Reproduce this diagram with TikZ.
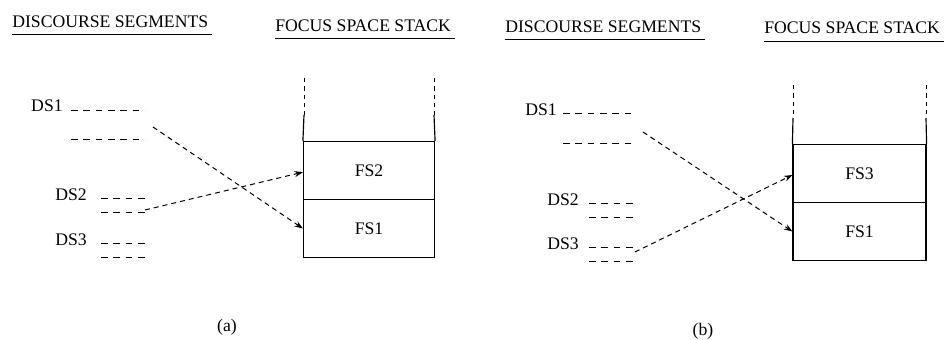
\documentclass[tikz,border=0pt]{standalone}
\usepackage{fontspec}
\setmainfont{Liberation Serif}
\usetikzlibrary{arrows.meta}

\begin{document}
\begin{tikzpicture}[x=0.6pt,y=-0.6pt,>={Stealth[length=5pt,width=3.6pt]},
  font=\fontsize{10.6}{12}\selectfont,
  txt/.style={inner sep=0pt},
  fsbox/.style={draw,line width=0.7pt,minimum width=78.6pt,minimum height=34.8pt,inner sep=0pt},
  seg/.style={dash pattern=on 4pt off 3.4pt,line width=0.6pt},
  wall/.style={line width=0.5pt,dash pattern=on 2.6pt off 2.4pt},
  link/.style={->,dash pattern=on 3pt off 2.4pt,line width=0.6pt}]
  \useasboundingbox (0,0) rectangle (945,340);
  % (a)
  \node[txt,anchor=base west] (hda) at (12,27) {DISCOURSE SEGMENTS};
  \node[txt,anchor=base west] (hfa) at (275,31.5) {FOCUS SPACE STACK};
  \draw[line width=0.7pt] ([yshift=-4.3pt]hda.base west) -- ([xshift=2pt,yshift=-4.3pt]hda.base east);
  \draw[line width=0.7pt] ([yshift=-4pt]hfa.base west) -- ([xshift=2pt,yshift=-4pt]hfa.base east);
  \node[fsbox] (fs2a) at (369,170.5) {FS2};
  \node[fsbox] (fs1a) at (369,228.5) {FS1};
  \draw[wall] (304,78)--(304,115) (434,78)--(434,115);
  \draw[line width=0.7pt] (304,115)--(fs2a.north west) (434,115)--(fs2a.north east);
  \node[txt,anchor=base east] (ds1a) at (63,111) {DS1};
  \node[txt,anchor=base east] (ds2a) at (87,200) {DS2};
  \node[txt,anchor=base east] (ds3a) at (87,245) {DS3};
  \draw[seg] (71,110)--(145,110) (71,139)--(145,139);
  \draw[seg] (101,198)--(145,198) (101,212)--(145,212);
  \draw[seg] (101,243)--(145,243) (101,257)--(145,257);
  \coordinate (s1a) at (153,127);
  \coordinate (s2a) at (145,210);
  \draw[link] (s1a) -- (fs1a.west);
  \draw[link] (s2a) -- ([yshift=-1pt]fs2a.west);
  \node (capa) at (227,327) {(a)};
  % (b)
  \node[txt,anchor=base west] (hdb) at (505,32) {DISCOURSE SEGMENTS};
  \node[txt,anchor=base west] (hfb) at (764,34) {FOCUS SPACE STACK};
  \draw[line width=0.7pt] ([yshift=-4.6pt]hdb.base west) -- ([xshift=2pt,yshift=-4.6pt]hdb.base east);
  \draw[line width=0.7pt] ([yshift=-4.6pt]hfb.base west) -- ([xshift=2pt,yshift=-4.6pt]hfb.base east);
  \node[fsbox,minimum width=79.8pt] (fs3b) at (859.5,173.5) {FS3};
  \node[fsbox,minimum width=79.8pt] (fs1b) at (859.5,231.5) {FS1};
  \draw[wall] (793,85)--(793,118) (926,85)--(926,118);
  \draw[line width=0.7pt] (793,118)--(fs3b.north west) (926,118)--(fs3b.north east);
  \node[txt,anchor=base east] (ds1b) at (557,115) {DS1};
  \node[txt,anchor=base east] (ds2b) at (579,205) {DS2};
  \node[txt,anchor=base east] (ds3b) at (579,249) {DS3};
  \draw[seg] (563,113)--(635,113) (563,143)--(635,143);
  \draw[seg] (589,203)--(635,203) (589,217)--(635,217);
  \draw[seg] (589,247)--(635,247) (589,261)--(635,261);
  \coordinate (s1b) at (643,132);
  \coordinate (s3b) at (635,252);
  \draw[link] (s1b) -- (fs1b.west);
  \draw[link] (s3b) -- ([yshift=-0.9pt]fs3b.west);
  \node (capb) at (703,331) {(b)};
\end{tikzpicture}
\end{document}
